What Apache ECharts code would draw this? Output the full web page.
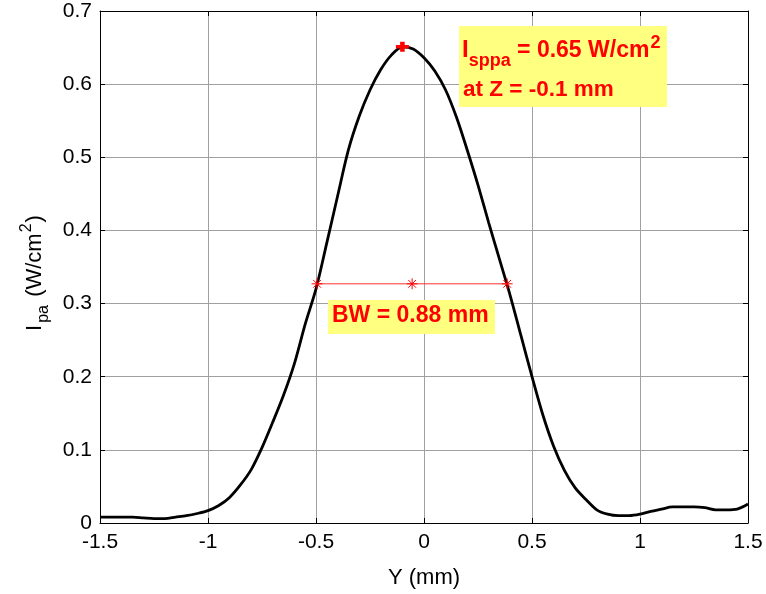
<!DOCTYPE html>
<html>
<head>
<meta charset="utf-8">
<script src="https://cdn.jsdelivr.net/npm/echarts@6/dist/echarts.min.js"></script>
<style>
    html, body { margin: 0; padding: 0; background: #fff; }
    #chart { width: 766px; height: 594px; }
</style>
</head>
<body>
<div id="chart"></div>
<script>
// lateral position (mm)
var yPos = [
    -1.5, -1.45, -1.4, -1.35, -1.3, -1.25, -1.2, -1.15, -1.1, -1.05,
    -1.0, -0.95, -0.9, -0.85, -0.8, -0.75, -0.7, -0.65, -0.6, -0.55,
    -0.5, -0.45, -0.4, -0.35, -0.3, -0.25, -0.2, -0.15, -0.1, -0.05,
    0, 0.05, 0.1, 0.15, 0.2, 0.25, 0.3, 0.35, 0.4, 0.45,
    0.5, 0.55, 0.6, 0.65, 0.7, 0.75, 0.8, 0.85, 0.9, 0.95,
    1.0, 1.05, 1.1, 1.15, 1.2, 1.25, 1.3, 1.35, 1.4, 1.45, 1.5
];
// pulse average intensity (W/cm^2)
var ipa = [
    0.008, 0.008, 0.008, 0.008, 0.007, 0.006, 0.006, 0.008, 0.010, 0.013,
    0.017, 0.024, 0.035, 0.052, 0.073, 0.103, 0.138, 0.175, 0.218, 0.272,
    0.320, 0.383, 0.447, 0.510, 0.556, 0.592, 0.620, 0.640, 0.651, 0.648,
    0.636, 0.618, 0.592, 0.555, 0.510, 0.462, 0.410, 0.360, 0.310, 0.255,
    0.200, 0.148, 0.105, 0.072, 0.048, 0.032, 0.018, 0.012, 0.010, 0.010,
    0.012, 0.016, 0.019, 0.022, 0.022, 0.022, 0.021, 0.018, 0.018, 0.019, 0.026
];
// peak (Isppa) and -6 dB beam width points
var peakPoint = [-0.1, 0.651];
var bwX = [-0.495, -0.055, 0.385];
var bwY = [0.327, 0.327, 0.327];

var xTicks = { min: -1.5, max: 1.5, step: 0.5 };
var yTicks = { min: 0, max: 0.7, step: 0.1 };

var FONT = '"Liberation Sans", Arial, sans-serif';
var RED = '#ff0000';
var STAR = 'path://M5,0L5,10M0,5L10,5M1.5,1.5L8.5,8.5M1.5,8.5L8.5,1.5';
var PLUS = 'path://M5,0L5,10M0,5L10,5';

var measureCtx = document.createElement('canvas').getContext('2d');
function textW(t, font) {
    measureCtx.font = font;
    return measureCtx.measureText(t).width;
}

// lays a row of text pieces one after another (sub/superscripts by dy)
function textRun(x, y, pieces, color, z) {
    var out = [];
    var cx = x;
    pieces.forEach(function(p) {
        cx += p.gap || 0;
        out.push({
            type: 'text',
            x: cx,
            y: y + (p.dy || 0),
            z: z,
            silent: true,
            style: {
                text: p.t,
                font: p.font,
                fill: color,
                textAlign: 'left',
                textVerticalAlign: 'middle'
            }
        });
        cx += textW(p.t, p.font);
    });
    return out;
}
function runWidth(pieces) {
    var w = 0;
    pieces.forEach(function(p) { w += textW(p.t, p.font) + (p.gap || 0); });
    return w;
}

var bold = 'bold 23px ' + FONT;
var boldSmall = 'bold 18px ' + FONT;
var plain = '22px ' + FONT;
var plainSmall = '16px ' + FONT;

var line1 = [
    { t: 'I', font: 'bold 24px ' + FONT, dy: -1 },
    { t: 'sppa', font: boldSmall, dy: 10 },
    { t: ' = 0.65 W/cm', font: bold },
    { t: '2', font: boldSmall, dy: -8, gap: 1 }
];
var line2 = [{ t: 'at Z = -0.1 mm', font: 'bold 22.5px ' + FONT }];
var bwLine = [{ t: 'BW = 0.88 mm', font: 'bold 23px ' + FONT }];

var yName = [
    { t: 'I', font: plain },
    { t: 'pa', font: plainSmall, dy: 9, gap: 2 },
    { t: ' (W/cm', font: plain, gap: 2 },
    { t: '2', font: plainSmall, dy: -8, gap: 1 },
    { t: ')', font: plain, gap: 1 }
];
var yNameW = runWidth(yName);

var graphics = [
    { type: 'rect', z: 100, shape: { x: 459, y: 26, width: 208, height: 81 }, style: { fill: '#ffff80' } },
    { type: 'rect', z: 100, shape: { x: 328, y: 300, width: 167, height: 34 }, style: { fill: '#ffff80' } },
    {
        type: 'group',
        x: 35,
        y: 273,
        rotation: Math.PI / 2,
        children: textRun(-yNameW / 2, 0, yName, '#000', 10)
    }
].concat(textRun(462, 51, line1, RED, 101))
 .concat(textRun(463, 90, line2, RED, 101))
 .concat(textRun(332, 316, bwLine, RED, 101));

function boxAxis(extra) {
    var base = {
        type: 'value',
        axisLine: { show: true, onZero: false, lineStyle: { color: '#000', width: 1 } },
        axisTick: { show: true, inside: true, length: 5, lineStyle: { color: '#000' } },
        axisLabel: { show: false },
        splitLine: { show: false }
    };
    return Object.assign(base, extra);
}

var chart = echarts.init(document.getElementById('chart'));
chart.setOption({
    animation: false,
    backgroundColor: '#fff',
    grid: { left: 100, right: 18, top: 11, bottom: 70 },
    xAxis: [
        boxAxis({
            position: 'bottom',
            min: xTicks.min, max: xTicks.max, interval: xTicks.step,
            axisLabel: { show: true, color: '#000', fontSize: 21, fontFamily: FONT, margin: 9 },
            splitLine: { show: true, lineStyle: { color: '#a0a0a0', width: 1 } },
            name: 'Y (mm)',
            nameLocation: 'middle',
            nameGap: 44,
            nameTextStyle: { color: '#000', fontSize: 22, fontFamily: FONT }
        }),
        boxAxis({ position: 'top', min: xTicks.min, max: xTicks.max, interval: xTicks.step })
    ],
    yAxis: [
        boxAxis({
            position: 'left',
            min: yTicks.min, max: yTicks.max, interval: yTicks.step,
            axisLabel: { show: true, color: '#000', fontSize: 21, fontFamily: FONT, margin: 8 },
            splitLine: { show: true, lineStyle: { color: '#a0a0a0', width: 1 } }
        }),
        boxAxis({ position: 'right', min: yTicks.min, max: yTicks.max, interval: yTicks.step })
    ],
    graphic: graphics,
    series: [
        {
            name: 'Ipa',
            type: 'line',
            data: yPos.map(function(x, i) { return [x, ipa[i]]; }),
            showSymbol: false,
            smooth: 0.3,
            lineStyle: { color: '#000', width: 2.8 },
            z: 3
        },
        {
            name: 'BW',
            type: 'line',
            data: bwX.map(function(x, i) { return [x, bwY[i]]; }),
            symbol: STAR,
            symbolSize: 11,
            showSymbol: true,
            lineStyle: { color: '#ff3030', width: 1 },
            itemStyle: { color: 'rgba(0,0,0,0)', borderColor: RED, borderWidth: 1 },
            z: 4
        },
        {
            name: 'peak',
            type: 'scatter',
            data: [peakPoint],
            symbol: PLUS,
            symbolSize: [13, 10],
            itemStyle: { color: RED, borderColor: RED, borderWidth: 4, opacity: 1 },
            z: 5
        }
    ]
});
</script>
</body>
</html>
